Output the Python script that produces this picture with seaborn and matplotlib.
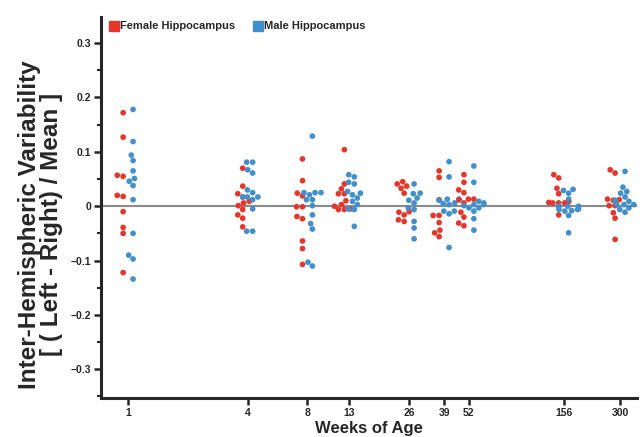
import numpy as np
import pandas as pd
import seaborn as sns
import matplotlib
matplotlib.use("Agg")
import matplotlib.pyplot as plt
from matplotlib.lines import Line2D
from matplotlib.ticker import FixedLocator, FixedFormatter, MultipleLocator, NullLocator, FuncFormatter

weeks = [1, 4, 8, 13, 26, 39, 52, 156, 300]
week_labels = ["1", "4", "8", "13", "26", "39", "52", "156", "300"]
series_names = ["Female Hippocampus", "Male Hippocampus"]

female_1 = [0.172, 0.127, 0.055, 0.057, 0.018, 0.020, -0.010, -0.039, -0.050, -0.122]
male_1 = [0.178, 0.119, 0.094, 0.084, 0.065, 0.046, 0.051, 0.038, 0.012, -0.050, -0.090, -0.097, -0.134]
female_4 = [0.070, 0.037, 0.023, 0.017, 0.009, 0.006, 0.001, -0.006, -0.016, -0.022, -0.038]
male_4 = [0.081, 0.081, 0.067, 0.061, 0.030, 0.025, 0.017, 0.017, 0.017, 0.012, -0.005, -0.046, -0.046]
female_8 = [0.087, 0.047, 0.024, 0.019, -0.001, -0.001, -0.019, -0.023, -0.064, -0.078, -0.107]
male_8 = [0.129, 0.025, 0.025, 0.025, 0.021, 0.012, 0.012, 0.001, -0.016, -0.032, -0.042, -0.103, -0.110]
female_13 = [0.104, 0.041, 0.032, 0.023, 0.023, 0.010, 0.003, 0.000, -0.005, -0.006, -0.006]
male_13 = [0.058, 0.054, 0.044, 0.041, 0.027, 0.024, 0.021, 0.015, 0.009, 0.003, -0.005, -0.006, -0.037]
female_26 = [0.045, 0.041, 0.037, 0.033, 0.024, -0.010, -0.011, -0.016, -0.025, -0.028]
male_26 = [0.041, 0.024, 0.023, 0.015, 0.011, 0.006, -0.003, -0.006, -0.028, -0.040, -0.060]
female_39 = [0.065, 0.053, 0.012, -0.017, -0.017, -0.030, -0.044, -0.049, -0.056]
male_39 = [0.082, 0.054, 0.013, 0.013, 0.012, 0.011, 0.006, 0.005, 0.003, -0.009, -0.009, -0.014, -0.076]
female_52 = [0.058, 0.044, 0.030, 0.025, 0.013, 0.013, 0.012, 0.006, -0.011, -0.020, -0.031, -0.036]
male_52 = [0.074, 0.044, 0.009, 0.006, 0.003, 0.003, 0.001, -0.003, -0.003, -0.009, -0.023, -0.044]
female_156 = [0.058, 0.052, 0.033, 0.023, 0.009, 0.009, 0.007, 0.006, 0.006, 0.006, -0.016]
male_156 = [0.031, 0.029, 0.024, 0.013, 0.000, 0.000, 0.000, -0.001, -0.005, -0.006, -0.006, -0.008, -0.009, -0.017, -0.049]
female_300 = [0.067, 0.061, 0.013, 0.012, 0.011, 0.001, 0.001, -0.012, -0.022, -0.061]
male_300 = [0.064, 0.035, 0.027, 0.024, 0.017, 0.011, 0.009, 0.003, 0.003, 0.003, -0.003, -0.006, -0.011]

female_groups = [female_1, female_4, female_8, female_13, female_26, female_39, female_52, female_156, female_300]
male_groups = [male_1, male_4, male_8, male_13, male_26, male_39, male_52, male_156, male_300]

rows = []
for w, fv, mv in zip(weeks, female_groups, male_groups):
    for v in fv:
        rows.append((w, v, series_names[0]))
    for v in mv:
        rows.append((w, v, series_names[1]))
df = pd.DataFrame(rows, columns=["week", "value", "sex"])

RED = "#E8352B"
BLUE = "#418FCC"

sns.set_style("ticks")
plt.rcParams["font.family"] = ["Liberation Sans", "DejaVu Sans"]
plt.rcParams["font.weight"] = "bold"
plt.rcParams["axes.labelweight"] = "bold"

fig = plt.figure(figsize=(6.43, 4.37), dpi=100)
ax = fig.add_axes([0.157, 0.089, 0.834, 0.872])
ax.axhline(0, color="#8a8a8a", lw=1.5, zorder=0)

sns.swarmplot(data=df, x="week", y="value", hue="sex", hue_order=series_names,
              palette=[RED, BLUE], native_scale=True, log_scale=(True, False),
              dodge=True, size=4.1, linewidth=0, legend=False, warn_thresh=1.0, ax=ax)

ax.set_xlim(0.73, 366)
ax.set_ylim(-0.353, 0.348)
ax.xaxis.set_major_locator(FixedLocator(weeks))
ax.xaxis.set_major_formatter(FixedFormatter(week_labels))
ax.xaxis.set_minor_locator(NullLocator())
ax.yaxis.set_major_locator(MultipleLocator(0.1))
ax.yaxis.set_minor_locator(MultipleLocator(0.05))
ax.yaxis.set_major_formatter(FuncFormatter(lambda v, p: "0" if abs(v) < 1e-9 else f"{v:.1f}".replace("-", "\u2212")))

sns.despine(ax=ax)
for s in ["left", "bottom"]:
    ax.spines[s].set_linewidth(2.2)
ax.tick_params(axis="both", which="major", length=5, width=1.8, labelsize=7.5, pad=2)
ax.tick_params(axis="y", which="minor", length=3, width=1.5)
for lab in ax.get_xticklabels() + ax.get_yticklabels():
    lab.set_fontweight("bold")

ax.set_xlabel("Weeks of Age", fontsize=12, fontweight="bold", labelpad=2)
ax.set_ylabel("Inter-Hemispheric Variability\n[ ( Left - Right) / Mean ]", fontsize=17.5,
              fontweight="bold", linespacing=0.95)
ax.yaxis.set_label_coords(-0.071, 0.455)

handles = [Line2D([], [], marker="s", ls="", color=RED, markersize=7, label=series_names[0]),
           Line2D([], [], marker="s", ls="", color=BLUE, markersize=7, label=series_names[1])]
ax.legend(handles=handles, loc="upper left", bbox_to_anchor=(0.005, 1.0), ncol=2, frameon=False,
          handletextpad=0.1, columnspacing=1.5, handlelength=1.0, borderaxespad=0,
          prop={"size": 8, "weight": "bold"})

fig.savefig("out.png", dpi=100)
